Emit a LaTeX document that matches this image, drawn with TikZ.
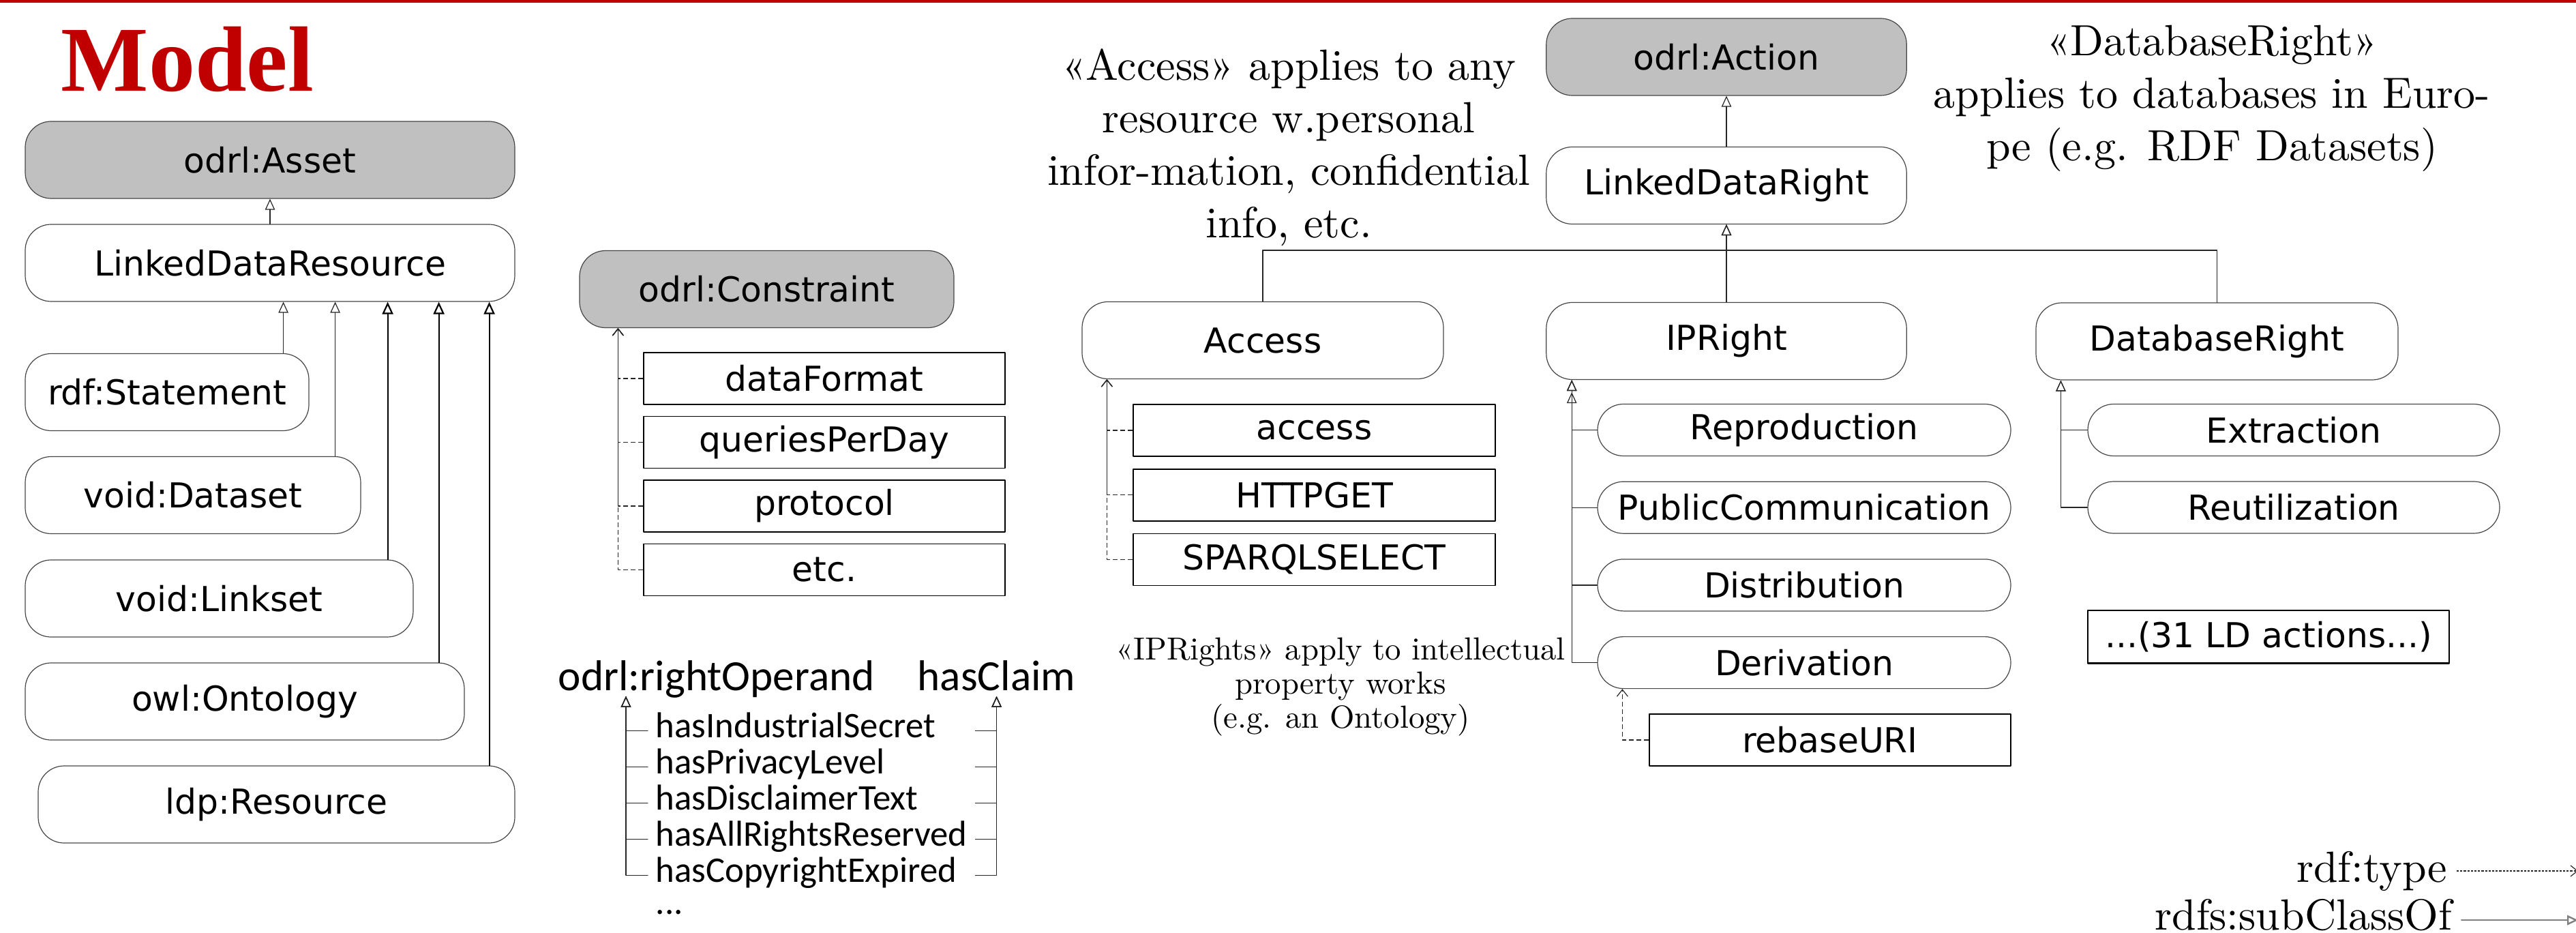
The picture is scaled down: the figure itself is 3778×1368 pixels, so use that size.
\documentclass[tikz,border=0pt]{standalone}
\usepackage{fontspec}
\usepackage{tikz}
\usetikzlibrary{arrows.meta}
\newfontfamily\boxfont{DejaVu Sans}
\newfontfamily\listfont{Carlito}
\newfontfamily\headfont{Liberation Serif}
\newfontfamily\notefont{lmroman10-regular.otf}
\definecolor{boxgray}{RGB}{192,192,192}
\definecolor{titlered}{RGB}{192,0,0}
\definecolor{edgegray}{RGB}{70,70,70}

\begin{document}
\begin{tikzpicture}[line cap=round,line join=round,x=0.25pt,y=-0.25pt,
cls/.style={draw=edgegray,line width=0.3pt,rounded corners=9.5pt,inner sep=0pt,font=\boxfont\fontsize{12.6}{15}\selectfont,minimum height=28.25pt},
topcls/.style={cls,fill=boxgray},
subbox/.style={cls,minimum height=19pt},
instbox/.style={draw=black,line width=0.4pt,inner sep=0pt,font=\boxfont\fontsize{12.6}{15}\selectfont,minimum height=19pt},
remark/.style={align=center,inner sep=0pt},
opitem/.style={anchor=base west,inner sep=2.75pt,font=\listfont\fontsize{13.2}{15}\selectfont,text height=0.75em,text depth=0.25em},
ophead/.style={anchor=base west,inner sep=0pt,font=\listfont\fontsize{15.8}{18}\selectfont,text depth=0.2em},
isa/.style={draw=black!85,line width=0.3pt,-{Triangle[open,length=4pt,width=3.6pt]}},
isabold/.style={draw=black,line width=0.55pt,-{Triangle[open,length=4.5pt,width=4pt]}},
typeof/.style={draw=black!85,line width=0.3pt,line cap=butt,dash pattern=on 1.75pt off 1pt,-{Straight Barb[length=2.5pt,width=4pt]}}]
\useasboundingbox (0,0) rectangle (3778,1368);
\fill[titlered] (0,0) rectangle (3778,4);
\node[anchor=base west,inner sep=0pt,text=titlered,font=\headfont\bfseries\fontsize{34}{40}\selectfont] (title) at (89,134) {Model};
\node[topcls,minimum width=179.5pt] (asset) at (396,234.5) {odrl:Asset};
\node[cls,minimum width=179.5pt] (ldres) at (396,385.5) {LinkedDataResource};
\node[cls,minimum width=104pt] (statement) at (245,575) {rdf:Statement};
\node[cls,minimum width=123pt] (dataset) at (283,726) {void:Dataset};
\node[cls,minimum width=142.25pt] (linkset) at (321.5,877.5) {void:Linkset};
\node[cls,minimum width=161pt] (ontology) at (359,1028.5) {owl:Ontology};
\node[cls,minimum width=174.75pt] (ldpres) at (405.5,1179.5) {ldp:Resource};
\draw[isa] (ldres.north) -- (asset.south);
\draw[isa] ([xshift=-9.5pt]statement.north east) -- ([xshift=-9.5pt]statement.north east |- ldres.south);
\draw[isa] ([xshift=-9.5pt]dataset.north east) -- ([xshift=-9.5pt]dataset.north east |- ldres.south);
\draw[isabold] ([xshift=-9.5pt]linkset.north east) -- ([xshift=-9.5pt]linkset.north east |- ldres.south);
\draw[isabold] ([xshift=-9.5pt]ontology.north east) -- ([xshift=-9.5pt]ontology.north east |- ldres.south);
\draw[isabold] ([xshift=-9.5pt]ldpres.north east) -- ([xshift=-9.5pt]ldpres.north east |- ldres.south);
\node[topcls,minimum width=137.25pt] (constraint) at (1124.5,424) {odrl:Constraint};
\node[instbox,minimum width=132.5pt] (dataformat) at (1209,555) {dataFormat};
\node[instbox,minimum width=132.5pt] (queries) at (1209,648.5) {queriesPerDay};
\node[instbox,minimum width=132.5pt] (protocol) at (1209,742) {protocol};
\node[instbox,minimum width=132.5pt] (etcc) at (1209,835.5) {etc.};
\draw[typeof] (dataformat.west) -| ([xshift=14.25pt]constraint.south west);
\draw[typeof] (queries.west) -| ([xshift=14.25pt]constraint.south west);
\draw[typeof] (protocol.west) -| ([xshift=14.25pt]constraint.south west);
\draw[typeof] (etcc.west) -| ([xshift=14.25pt]constraint.south west);
\node[ophead] (rightop) at (818,1012) {odrl:rightOperand};
\node[ophead] (hasclaim) at (1345,1012) {hasClaim};
\node[opitem] (hasind) at (950,1081.7) {hasIndustrialSecret};
\node[opitem] (haspriv) at (950,1134.7) {hasPrivacyLevel};
\node[opitem] (hasdisc) at (950,1187.7) {hasDisclaimerText};
\node[opitem] (hasall) at (950,1240.7) {hasAllRightsReserved};
\node[opitem] (hascopy) at (950,1293.7) {hasCopyrightExpired};
\node[opitem] (moreops) at (950,1340) {...};
\draw[isa] (hasind.west) -| ([xshift=25pt]rightop.south west);
\draw[isa] (haspriv.west) -| ([xshift=25pt]rightop.south west);
\draw[isa] (hasdisc.west) -| ([xshift=25pt]rightop.south west);
\draw[isa] (hasall.west) -| ([xshift=25pt]rightop.south west);
\draw[isa] (hascopy.west) -| ([xshift=25pt]rightop.south west);
\draw[isa] (hasind.west -| hasall.east) -| (hasclaim.south);
\draw[isa] (haspriv.west -| hasall.east) -| (hasclaim.south);
\draw[isa] (hasdisc.west -| hasall.east) -| (hasclaim.south);
\draw[isa] (hasall.east) -| (hasclaim.south);
\draw[isa] (hascopy.west -| hasall.east) -| (hasclaim.south);
\node[remark,font=\notefont\fontsize{16}{19.25}\selectfont] (accessnote) at (1890,216.5) {«Access» applies to any\\resource w.personal\\infor-mation, confidential\\info, etc.};
\node[topcls,minimum width=132.1pt] (action) at (2532,83.5) {odrl:Action};
\node[cls,minimum width=132.1pt] (ldright) at (2532,272) {LinkedDataRight};
\node[cls,minimum width=132.5pt] (access) at (1852,499) {Access};
\node[cls,minimum width=132.1pt] (ipright) at (2532,500) {IPRight};
\node[cls,minimum width=132.75pt] (dbright) at (3251.5,500.5) {DatabaseRight};
\node[remark,font=\notefont\fontsize{16}{19.25}\selectfont] (dbnote) at (3244,144.5) {«DatabaseRight»\\applies to databases in Euro-\\pe (e.g. RDF Datasets)};
\draw[isa] (ldright.north) -- (action.south);
\draw[isa] (ipright.north) -- (ldright.south);
\draw[isa] (access.north) |- ([yshift=-9.5pt]ldright.south) -- (ldright.south);
\draw[isa] (dbright.north) |- ([yshift=-9.5pt]ldright.south) -- (ldright.south);
\node[instbox,minimum width=132.75pt] (accessv) at (1927.5,631) {access};
\node[instbox,minimum width=132.75pt] (httpget) at (1927.5,725.75) {HTTPGET};
\node[instbox,minimum width=132.75pt] (sparql) at (1927.5,820.5) {SPARQLSELECT};
\draw[typeof] (accessv.west) -| ([xshift=9.25pt]access.south west);
\draw[typeof] (httpget.west) -| ([xshift=9.25pt]access.south west);
\draw[typeof] (sparql.west) -| ([xshift=9.25pt]access.south west);
\node[remark,font=\notefont\fontsize{11.7}{12.5}\selectfont] (ipnote) at (1966,1007) {«IPRights» apply to intellectual\\property works\\(e.g. an Ontology)};
\node[subbox,minimum width=151.5pt] (reproduction) at (2646,630.5) {Reproduction};
\node[subbox,minimum width=151.5pt] (pubcomm) at (2646,744.2) {PublicCommunication};
\node[subbox,minimum width=151.5pt] (distribution) at (2646,857.9) {Distribution};
\node[subbox,minimum width=151.5pt] (derivation) at (2646,971.6) {Derivation};
\node[instbox,minimum width=132.6pt] (rebaseuri) at (2684,1085) {rebaseURI};
\draw[isa] (reproduction.west) -| ([xshift=9.5pt]ipright.south west);
\draw[isa] (pubcomm.west) -| ([xshift=9.5pt]ipright.south west);
\draw[isa] (distribution.west) -| ([xshift=9.5pt]ipright.south west);
\draw[isa] (derivation.west) -| ([xshift=9.5pt,yshift=-4.5pt]ipright.south west);
\draw[typeof] (rebaseuri.west) -| ([xshift=9.25pt]derivation.south west);
\node[subbox,minimum width=151pt] (extraction) at (3364,630.5) {Extraction};
\node[subbox,minimum width=151pt] (reutil) at (3364,744) {Reutilization};
\draw[isa] (extraction.west) -| ([xshift=9.25pt]dbright.south west);
\draw[isa] (reutil.west) -| ([xshift=9.25pt]dbright.south west);
\node[instbox,line width=0.6pt,minimum width=132.5pt,minimum height=19.4pt] (ldactions) at (3327,933.8) {...(31 LD actions...)};
\node[anchor=base east,font=\notefont\fontsize{16}{19}\selectfont] (rdftype) at (3603,1293) {rdf:type};
\node[anchor=base east,font=\notefont\fontsize{16}{19}\selectfont] (subcls) at (3610,1363) {rdfs:subClassOf};
\coordinate (legendend) at (3781,1300);
\draw[typeof,dash pattern=on 0.8pt off 0.5pt] (rdftype.east) -- (rdftype.east -| legendend);
\draw[isa,draw=gray,line width=0.6pt] ([yshift=-2pt]subcls.east) -- ([yshift=-2pt]subcls.east -| legendend);
\end{tikzpicture}
\end{document}
